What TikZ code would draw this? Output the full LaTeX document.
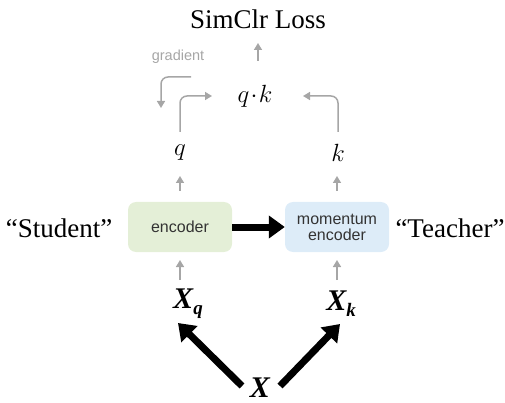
\documentclass[tikz,border=0pt]{standalone}
\usepackage{fontspec}
\setmainfont{Liberation Serif}
\setsansfont{Liberation Sans}
\usetikzlibrary{arrows.meta}
\definecolor{flowgray}{HTML}{A6A6A6}
\definecolor{encgreen}{HTML}{E4EFD7}
\definecolor{encblue}{HTML}{DDECF8}
\tikzset{
  serif/.style={font=\fontsize{27}{30}\selectfont, inner sep=0pt},
  mathlbl/.style={font=\fontsize{31}{32}\selectfont, inner sep=0pt},
  inputlbl/.style={font=\fontsize{30}{32}\selectfont\bfseries\itshape, inner sep=0pt},
  encbox/.style={rounded corners=8pt, minimum width=104pt, minimum height=50pt,
    align=center, text=black!80, font=\sffamily\fontsize{16}{17}\selectfont},
  flow/.style={draw=flowgray, line width=1.5pt, -{Triangle[length=7pt,width=8pt]}},
  bigarrow/.style={line width=7pt, -{Triangle[length=16pt,width=22pt]}},
}
\begin{document}
\begin{tikzpicture}[x=1pt,y=-1pt]
\useasboundingbox (0,0) rectangle (505,403);

% loss and similarity
\node[serif] (loss) at (258,19) {SimClr Loss};
\node[mathlbl] (qk) at (255,96) {$q\!\cdot\! k$};
\node[font=\sffamily\fontsize{14.5}{16}\selectfont, text=flowgray] (grad) at (178,57) {gradient};

% query / key
\node[mathlbl] (q) at (180,153) {$q$};
\node[mathlbl] (k) at (338,153) {$k$};

% encoders
\node[encbox, fill=encgreen] (enc) at (180,227) {encoder};
\node[encbox, fill=encblue] (menc) at (337,227) {momentum\\[-1pt]encoder};
\node[serif] (student) at (59,228) {“Student”};
\node[serif] (teacher) at (450,228) {“Teacher”};

% inputs
\node[inputlbl] (xq) at (188,304) {X\raisebox{-6pt}{\fontsize{19}{20}\selectfont q}};
\node[inputlbl] (xk) at (341,304) {X\raisebox{-6pt}{\fontsize{19}{20}\selectfont k}};
\node[inputlbl] (x) at (260,388) {X};

% free ends of the gray flow lines
\coordinate (qstart) at (180,132);
\coordinate (kstart) at (338,132);
\coordinate (qkin) at (212,96);
\coordinate (kqin) at (303,96);
\coordinate (gstart) at (191,77);
\coordinate (gend) at (161,108);
\coordinate (lossin) at (258,43);
\coordinate (qkout) at (258,61);
\coordinate (encup) at (180,176);
\coordinate (encupstart) at (180,191);
\coordinate (mencup) at (337,176);
\coordinate (mencupstart) at (337,191);
\coordinate (encin) at (180,260);
\coordinate (encinstart) at (180,280);
\coordinate (mencin) at (337,260);
\coordinate (mencinstart) at (337,280);

% gray flow arrows
\draw[flow] (qkout) -- (lossin);
\draw[flow, rounded corners=7pt] (qstart) |- (qkin);
\draw[flow, rounded corners=7pt] (kstart) |- (kqin);
\draw[flow, rounded corners=7pt] (gstart) -| (gend);
\draw[flow] (encupstart) -- (encup);
\draw[flow] (mencupstart) -- (mencup);
\draw[flow] (encinstart) -- (encin);
\draw[flow] (mencinstart) -- (mencin);

% momentum update
\draw[bigarrow] (enc.east) -- (menc.west);

% augmentations
\coordinate (xl) at (242,386);
\coordinate (xr) at (280,386);
\coordinate (xqtip) at (178,323);
\coordinate (xktip) at (340,324);
\draw[bigarrow] (xl) -- (xqtip);
\draw[bigarrow] (xr) -- (xktip);
\end{tikzpicture}
\end{document}
